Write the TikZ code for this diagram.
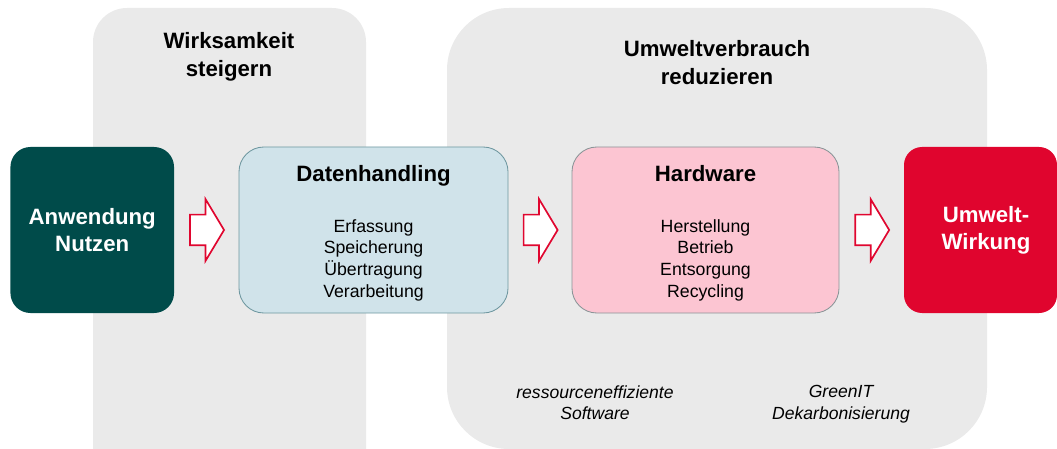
\documentclass[tikz,border=0pt]{standalone}
\usepackage{fontspec}
\setmainfont{Liberation Sans}
\usepackage{tikz}
\usetikzlibrary{positioning, calc, shapes.arrows}
\usepackage{xcolor}
\definecolor{panelgray}{HTML}{EAEAEA}
\definecolor{nutzengreen}{HTML}{004B4A}
\definecolor{datenblue}{HTML}{D0E3EA}
\definecolor{datenrim}{HTML}{6E97A0}
\definecolor{hwpink}{HTML}{FCC5D2}
\definecolor{hwrim}{HTML}{8A9497}
\definecolor{wirkungred}{HTML}{E0052E}
\definecolor{arrowred}{HTML}{E0062F}

\begin{document}
\begin{tikzpicture}[scale=1.0,
    panel/.style={rectangle, fill=panelgray, inner sep=0pt},
    paneltitle/.style={anchor=north, inner sep=0pt, align=center, font=\fontsize{15.8}{19.9}\selectfont\bfseries},
    stage/.style={rectangle, rounded corners=0.62cm, minimum height=4.15cm, line width=0.6pt, inner sep=0pt},
    stagetext/.style={align=center, inner sep=0pt, font=\fontsize{12.6}{15.4}\selectfont},
    endbox/.style={rectangle, minimum height=4.15cm, inner sep=0pt},
    endtext/.style={text=white, align=center, inner sep=0pt, font=\fontsize{15.8}{19.2}\selectfont\bfseries},
    flowarrow/.style={single arrow, draw=arrowred, fill=white, line width=1.2pt, minimum height=0.85cm, single arrow head extend=0.3875cm, single arrow tip angle=118, inner sep=0pt, xshift=-0.1cm},
    hint/.style={anchor=north, inner sep=0pt, align=center, font=\fontsize{12.5}{15.6}\selectfont\itshape}]
  \clip (0,0) rectangle (26.425,11.2);
  % Panels
  \node[panel, rounded corners=0.85cm, minimum width=6.825cm, minimum height=12.8cm] (wirkpanel) at (5.7375,4.6) {};
  \node[panel, rounded corners=1.55cm, minimum width=13.5cm, minimum height=11.025cm] (umweltpanel) at (17.925,5.4875) {};
  \node[paneltitle] (wirktitle) at (5.725,10.4) {Wirksamkeit\\steigern};
  \node[paneltitle] (umwelttitle) at (17.925,10.2) {Umweltverbrauch\\reduzieren};
  % Stages
  \node[endbox, fill=nutzengreen, rounded corners=0.5cm, minimum width=4.09cm] (nutzen) at (2.306,5.45) {};
  \node[endtext] (nutzentext) at (nutzen.center) {Anwendung\\Nutzen};
  \node[stage, fill=datenblue, draw=datenrim, minimum width=6.725cm] (daten) at (9.3375,5.45) {};
  \node[stagetext] (datentext) at ([yshift=-0.08cm]daten.center)
    {{\fontsize{15.8}{15.4}\selectfont\bfseries Datenhandling}\\[20.6pt]Erfassung\\Speicherung\\Übertragung\\Verarbeitung};
  \node[stage, fill=hwpink, draw=hwrim, minimum width=6.675cm] (hardware) at (17.6375,5.45) {};
  \node[stagetext] (hardwaretext) at ([yshift=-0.08cm]hardware.center)
    {{\fontsize{15.8}{15.4}\selectfont\bfseries Hardware}\\[20.6pt]Herstellung\\Betrieb\\Entsorgung\\Recycling};
  \node[endbox, fill=wirkungred, rounded corners=0.45cm, minimum width=3.825cm] (wirkung) at (24.5125,5.45) {};
  \node[endtext] (wirkungtext) at ([xshift=0.1375cm]wirkung.center) {Umwelt-\\Wirkung};
  % Block arrows
  \node[flowarrow] (pfeilA) at ($(nutzen.east)!0.5!(daten.west)$) {\rule{0pt}{0.725cm}};
  \node[flowarrow] (pfeilB) at ($(daten.east)!0.5!(hardware.west)$) {\rule{0pt}{0.725cm}};
  \node[flowarrow] (pfeilC) at ($(hardware.east)!0.5!(wirkung.west)$) {\rule{0pt}{0.725cm}};
  % Levers
  \node[hint] (software) at (14.875,1.575) {ressourceneffiziente\\Software};
  \node[hint] (greenit) at (21.025,1.575) {GreenIT\\Dekarbonisierung};
\end{tikzpicture}
\end{document}
